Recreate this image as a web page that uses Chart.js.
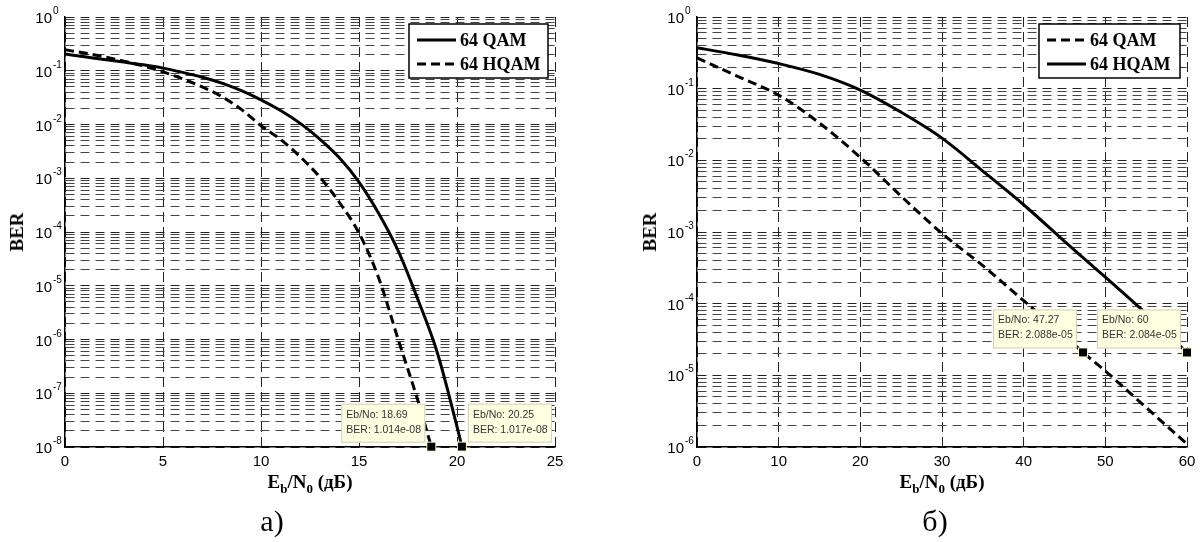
<!DOCTYPE html>
<html>
<head>
<meta charset="utf-8">
<script src="https://cdn.jsdelivr.net/npm/chart.js@4.4.1/dist/chart.umd.min.js"></script>
<style>
  body { margin: 0; background: #fff; }
  #wrap { position: relative; width: 1200px; height: 542px; overflow: hidden; }
  canvas { position: absolute; top: 0; }
  .lbl { position: absolute; font-family: "Liberation Serif", "Times New Roman", serif; font-weight: bold;
         font-size: 19px; line-height: 20px; color: #000; white-space: nowrap; }
  .lbl sub { font-size: 13px; vertical-align: -5px; line-height: 0; }
  .ylbl { transform: translate(-50%, -50%) rotate(-90deg); }
  .xlbl { transform: translateX(-50%); }
  .cap { position: absolute; font-family: "Liberation Serif", "Times New Roman", serif; font-size: 30px;
         line-height: 30px; transform: translateX(-50%); }
</style>
</head>
<body>
<div id="wrap">
  <canvas id="chartA" width="600" height="542" style="left:0"></canvas>
  <canvas id="chartB" width="600" height="542" style="left:600px"></canvas>
  <div class="lbl ylbl" style="left:17px;top:232px">BER</div>
  <div class="lbl ylbl" style="left:650px;top:232px">BER</div>
  <div class="lbl xlbl" style="left:310px;top:472px">E<sub>b</sub>/N<sub>0</sub> (дБ)</div>
  <div class="lbl xlbl" style="left:942px;top:472px">E<sub>b</sub>/N<sub>0</sub> (дБ)</div>
  <div class="cap" style="left:272px;top:506px">а)</div>
  <div class="cap" style="left:935px;top:506px">б)</div>
</div>
<script>
// ---- данные, график а) ----
const xTicksA = [0, 5, 10, 15, 20, 25];
const yExpA = [-8, -7, -6, -5, -4, -3, -2, -1, 0];
const qamXA = [0, 1, 2, 3, 4, 5, 6, 7, 8, 9, 10, 11, 12, 13, 14, 15, 16, 17, 18, 19, 20, 20.25];
const qamYA = [0.204, 0.182, 0.162, 0.145, 0.129, 0.112, 0.0933, 0.0759, 0.0589, 0.0427, 0.0288,
  0.0182, 0.0105, 0.00537, 0.0024, 0.000851, 0.000224, 4.47e-5, 5.62e-6, 5.62e-7, 2.4e-8, 1.017e-8];
const hqamXA = [0, 1, 2, 3, 4, 5, 6, 7, 8, 9, 10, 11, 12, 13, 14, 15, 16, 17, 18, 18.69];
const hqamYA = [0.245, 0.214, 0.182, 0.151, 0.123, 0.0955, 0.0708, 0.0501, 0.0331, 0.0191, 0.0095,
  0.00525, 0.00251, 0.00105, 0.000355, 9.55e-5, 1.41e-5, 1.0e-6, 7.4e-8, 1.014e-8];
const tipsA = [
  { x: 18.69, y: 1.014e-8, side: "left", text: ["Eb/No: 18.69", "BER: 1.014e-08"] },
  { x: 20.25, y: 1.017e-8, side: "right", text: ["Eb/No: 20.25", "BER: 1.017e-08"] },
];

// ---- данные, график б) ----
const xTicksB = [0, 10, 20, 30, 40, 50, 60];
const yExpB = [-6, -5, -4, -3, -2, -1, 0];
const qamXB = [0, 5, 10, 15, 20, 25, 30, 35, 40, 45, 47.27, 50, 55, 60];
const qamYB = [0.269, 0.148, 0.0813, 0.0331, 0.011, 0.00316, 0.000955, 0.000339, 0.00011,
  3.55e-5, 2.088e-5, 1.15e-5, 3.55e-6, 1.1e-6];
const hqamXB = [0, 5, 10, 15, 20, 25, 30, 35, 40, 45, 50, 55, 60];
const hqamYB = [0.372, 0.295, 0.224, 0.158, 0.0955, 0.0468, 0.0204, 0.00708, 0.0024, 0.000741,
  0.000234, 7.24e-5, 2.084e-5];
const tipsB = [
  { x: 47.27, y: 2.088e-5, side: "left", text: ["Eb/No: 47.27", "BER: 2.088e-05"] },
  { x: 60, y: 2.084e-5, side: "left", text: ["Eb/No: 60", "BER: 2.084e-05"] },
];

const minorSteps = [1, 2, 3, 4, 5, 6, 7, 8, 9];
const DASH = [9, 5];

function pts(xs, ys) {
  return xs.map((x, i) => ({ x: x, y: ys[i] }));
}

function isDecade(v) {
  const l = Math.log10(v);
  return Math.abs(l - Math.round(l)) < 1e-9;
}

// подписи осей, легенда и дата-подсказки
const decor = {
  id: "decor",
  afterDraw(chart, args, opts) {
    const ctx = chart.ctx;
    const xs = chart.scales.x, ys = chart.scales.y;
    const area = chart.chartArea;
    ctx.save();
    ctx.fillStyle = "#000";

    ctx.font = '15px "Liberation Sans", Arial, sans-serif';
    ctx.textAlign = "center";
    ctx.textBaseline = "alphabetic";
    opts.xTicks.forEach((v) => {
      ctx.fillText(String(v), xs.getPixelForValue(v), area.bottom + 19);
    });

    opts.yExp.forEach((e) => {
      const y = ys.getPixelForValue(Math.pow(10, e));
      ctx.font = '15px "Liberation Sans", Arial, sans-serif';
      ctx.textAlign = "right";
      ctx.fillText("10", area.left - 13, y + 6);
      ctx.font = '10px "Liberation Sans", Arial, sans-serif';
      ctx.textAlign = "left";
      ctx.fillText(String(e), area.left - 12, y - 3);
    });

    // легенда
    const lw = opts.legendW, lh = 54;
    const lx = area.right - 7 - lw, ly = area.top + 7;
    ctx.fillStyle = "#fff";
    ctx.fillRect(lx, ly, lw, lh);
    ctx.strokeStyle = "#000";
    ctx.lineWidth = 1.5;
    ctx.strokeRect(lx, ly, lw, lh);
    chart.data.datasets.forEach((ds, i) => {
      const ry = ly + 16 + i * 24;
      ctx.beginPath();
      ctx.setLineDash(ds.borderDash || []);
      ctx.lineWidth = 3;
      ctx.moveTo(lx + 8, ry);
      ctx.lineTo(lx + 47, ry);
      ctx.stroke();
      ctx.setLineDash([]);
      ctx.fillStyle = "#000";
      ctx.font = 'bold 18px "Liberation Serif", "Times New Roman", serif';
      ctx.textAlign = "left";
      ctx.fillText(ds.label, lx + 51, ry + 6);
    });

    // дата-подсказки
    opts.tips.forEach((tp) => {
      const mx = xs.getPixelForValue(tp.x), my = ys.getPixelForValue(tp.y);
      const w = 84, h = 39;
      const bx = tp.side === "left" ? mx - 6 - w : mx + 6;
      const by = my - 4 - h;
      ctx.fillStyle = "#ffffe1";
      ctx.fillRect(bx, by, w, h);
      ctx.strokeStyle = "#cfcfb6";
      ctx.lineWidth = 1;
      ctx.strokeRect(bx + 0.5, by + 0.5, w - 1, h - 1);
      ctx.fillStyle = "#333";
      ctx.font = '10.5px "Liberation Sans", Arial, sans-serif';
      ctx.textAlign = "left";
      ctx.fillText(tp.text[0], bx + 5, by + 14);
      ctx.fillText(tp.text[1], bx + 5, by + 29);
      ctx.fillStyle = "#ffffc8";
      ctx.fillRect(mx - 5, my - 5, 10, 10);
      ctx.fillStyle = "#000";
      ctx.fillRect(mx - 4, my - 4, 8, 8);
    });
    ctx.restore();
  },
};

function makeChart(id, cfg) {
  const ds = (label, data, dashed) => ({
    label: label,
    data: data,
    borderColor: "#000",
    borderWidth: 3,
    borderDash: dashed ? DASH : [],
    pointRadius: 0,
    cubicInterpolationMode: "monotone",
    fill: false,
  });

  return new Chart(document.getElementById(id), {
    type: "line",
    data: {
      datasets: [
        ds("64 QAM", cfg.qam, cfg.qamDashed),
        ds("64 HQAM", cfg.hqam, !cfg.qamDashed),
      ],
    },
    plugins: [decor],
    options: {
      responsive: false,
      animation: false,
      layout: { padding: cfg.padding },
      plugins: {
        legend: { display: false },
        tooltip: { enabled: false },
        decor: { xTicks: cfg.xTicks, yExp: cfg.yExp, tips: cfg.tips, legendW: cfg.legendW },
      },
      scales: {
        x: {
          type: "linear",
          min: cfg.xTicks[0],
          max: cfg.xTicks[cfg.xTicks.length - 1],
          afterBuildTicks: (s) => { s.ticks = cfg.xTicks.map((v) => ({ value: v })); },
          ticks: { display: false },
          grid: { color: "#222", lineWidth: 1, drawTicks: false },
          border: { display: true, color: "#000", width: 1.5, dash: [10, 5] },
        },
        y: {
          type: "logarithmic",
          min: Math.pow(10, cfg.yExp[0]),
          max: 1,
          afterBuildTicks: (s) => {
            const t = [];
            cfg.yExp.slice(0, -1).forEach((e) => {
              minorSteps.forEach((m) => t.push({ value: m * Math.pow(10, e) }));
            });
            t.push({ value: 1 });
            s.ticks = t;
          },
          ticks: { display: false },
          grid: {
            color: (c) => (c.tick && isDecade(c.tick.value) ? "#222" : "#444"),
            lineWidth: 1,
            drawTicks: false,
          },
          border: { display: true, color: "#000", width: 1.5, dash: [9, 6] },
        },
      },
    },
  });
}

makeChart("chartA", {
  qam: pts(qamXA, qamYA),
  hqam: pts(hqamXA, hqamYA),
  qamDashed: false,
  xTicks: xTicksA,
  yExp: yExpA,
  tips: tipsA,
  legendW: 139,
  padding: { left: 65, top: 17, right: 45, bottom: 95 },
});

makeChart("chartB", {
  qam: pts(qamXB, qamYB),
  hqam: pts(hqamXB, hqamYB),
  qamDashed: true,
  xTicks: xTicksB,
  yExp: yExpB,
  tips: tipsB,
  legendW: 141,
  padding: { left: 97, top: 17, right: 13, bottom: 95 },
});
</script>
</body>
</html>
